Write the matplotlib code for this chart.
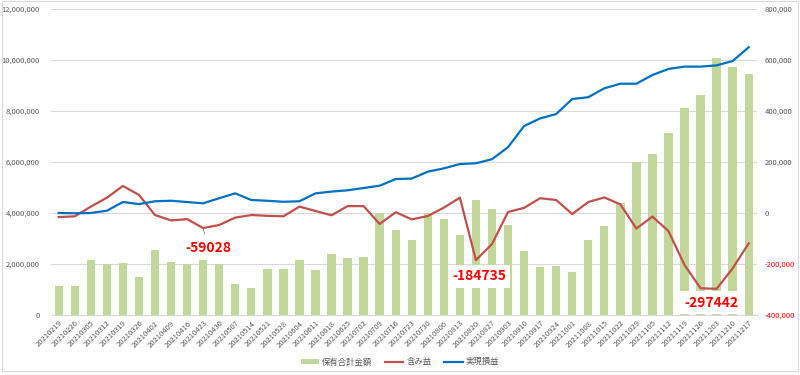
import matplotlib
matplotlib.use("Agg")
import matplotlib.pyplot as plt
from matplotlib.ticker import FuncFormatter
from matplotlib.patches import Rectangle
import numpy as np

plt.rcParams['font.family'] = ['Noto Sans CJK JP', 'DejaVu Sans']

dates = ["20210219","20210226","20210305","20210312","20210319","20210326","20210402","20210409",
         "20210416","20210423","20210430","20210507","20210514","20210521","20210528","20210604",
         "20210611","20210618","20210625","20210702","20210709","20210716","20210723","20210730",
         "20210806","20210813","20210820","20210827","20210903","20210910","20210917","20210924",
         "20211001","20211008","20211015","20211022","20211029","20211105","20211112","20211119",
         "20211126","20211203","20211210","20211217"]

holdings = [1150000, 1150000, 2160000, 2000000, 2040000, 1480000, 2550000, 2070000,
            2000000, 2160000, 2000000, 1200000, 1060000, 1790000, 1790000, 2160000,
            1760000, 2390000, 2240000, 2290000, 4010000, 3330000, 2940000, 4000000,
            3750000, 3120000, 4510000, 4140000, 3520000, 2520000, 1900000, 1920000,
            1700000, 2940000, 3490000, 4400000, 5990000, 6310000, 7120000, 8130000,
            8610000, 10080000, 9740000, 9450000]

unrealized = [-16000, -13000, 25000, 60000, 106000, 71000, -8000, -29000,
              -24000, -59028, -47000, -18000, -8000, -11000, -13000, 25000,
              8000, -9000, 27000, 27000, -43000, 3000, -25000, -12000,
              21000, 60000, -184735, -122000, 4000, 20000, 58000, 51000,
              -4000, 43000, 61000, 34000, -61000, -14000, -71000, -204000,
              -295000, -297442, -217000, -119000]

realized = [0, -1000, 0, 9000, 43000, 35000, 46000, 48000,
            43000, 38000, 58000, 77000, 51000, 48000, 44000, 46000,
            77000, 84000, 89000, 98000, 107000, 133000, 135000, 162000,
            175000, 192000, 195000, 211000, 258000, 341000, 371000, 388000,
            447000, 454000, 489000, 507000, 507000, 541000, 565000, 574000,
            574000, 579000, 596000, 650000]

labels_idx = [9, 26, 41]

series_names = ["保有合計金額", "含み益", "実現損益"]
bar_color = "#C3D69B"
red = "#C0504D"
blue = "#0070C0"
gray = "#595959"

fig = plt.figure(figsize=(8, 3.75), dpi=100)
fig.patches.append(Rectangle((0.002, 0.012), 0.996, 0.985, transform=fig.transFigure,
                             fill=False, edgecolor="#D9D9D9", linewidth=0.8))
ax = fig.add_axes([0.0634, 0.16, 0.8825, 0.816])
ax2 = ax.twinx()

x = np.arange(len(dates))
b = ax.bar(x, holdings, width=0.52, color=bar_color, zorder=2, label=series_names[0])
ax.set_ylim(0, 12000000)
ax.set_yticks(np.arange(0, 12000001, 2000000))
ax.yaxis.set_major_formatter(FuncFormatter(lambda v, p: f"{int(v):,}"))
ax.set_xlim(-0.5, len(dates) - 0.5)
ax.set_xticks(x)
ax.set_xticklabels(dates, rotation=45, ha="right", rotation_mode="anchor", fontsize=5.5, color=gray)
ax.grid(axis="y", color="#D9D9D9", linewidth=0.8, zorder=0)
ax.set_axisbelow(True)
for s in ["top", "right", "left"]:
    ax.spines[s].set_visible(False)
ax.spines["bottom"].set_color("#D9D9D9")
ax.tick_params(axis="y", length=0, labelsize=5.5, labelcolor=gray, pad=8)
ax.tick_params(axis="x", length=0, pad=3)

l1, = ax2.plot(x, unrealized, color=red, linewidth=1.6, label=series_names[1], zorder=3)
l2, = ax2.plot(x, realized, color=blue, linewidth=1.6, label=series_names[2], zorder=3)
ax2.set_ylim(-400000, 800000)
ax2.set_yticks(np.arange(-400000, 800001, 200000))
ax2.yaxis.set_major_formatter(FuncFormatter(lambda v, p: f"{int(v):,}"))
ax2.tick_params(axis="y", length=0, labelsize=5.5, labelcolor=gray, pad=6)
for s in ["top", "right", "left", "bottom"]:
    ax2.spines[s].set_visible(False)
for lab, v in zip(ax2.get_yticklabels(), ax2.get_yticks()):
    if v < 0:
        lab.set_color("#FF0000")

# data labels
i = labels_idx[0]
ax2.annotate(str(unrealized[i]), xy=(i, unrealized[i]), xytext=(i + 0.3, unrealized[i] - 78000),
             ha="center", va="center", color="#FF0000", fontsize=10, fontweight="bold",
             arrowprops=dict(arrowstyle="-", color="#7F7F7F", lw=0.6, shrinkA=3, shrinkB=0))
i = labels_idx[1]
ax2.text(i + 0.2, unrealized[i] - 64000, str(unrealized[i]), ha="center", va="center",
         color="#FF0000", fontsize=10, fontweight="bold", zorder=5,
         bbox=dict(boxstyle="square,pad=0.3", fc="white", ec="none"))
i = labels_idx[2]
ax2.text(i - 0.35, unrealized[i] - 54000, str(unrealized[i]), ha="center", va="center",
         color="#FF0000", fontsize=10, fontweight="bold", zorder=5,
         bbox=dict(boxstyle="square,pad=0.3", fc="white", ec="none"))

leg = fig.legend([b, l1, l2], series_names, loc="center", bbox_to_anchor=(0.5, 0.035),
                 ncol=3, frameon=False, fontsize=6, labelcolor=gray,
                 handlelength=2.2, handleheight=0.5, columnspacing=1.5, handletextpad=0.4)

fig.savefig("out.png", dpi=100)
